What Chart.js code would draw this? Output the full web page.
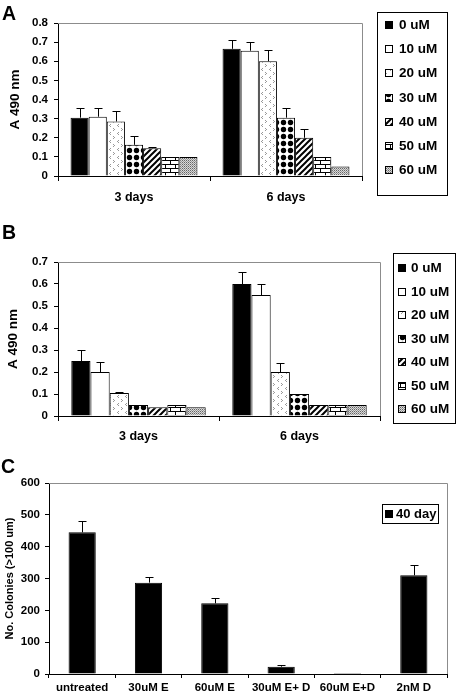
<!DOCTYPE html>
<html>
<head>
    <title>A 490 nm and colony counts</title>
    <script src="https://cdn.jsdelivr.net/npm/chart.js"></script>
    <style>
        body { margin: 0; background: #fff; font-family: "Liberation Sans", Arial, sans-serif; }
        .panel { position: absolute; left: 0; width: 456px; }
        .panel canvas { display: block; }
        .tag { position: absolute; font-weight: bold; font-size: 19.5px; line-height: 1; }
    </style>
</head>
<body>
    <div class="panel" style="top:0; height:215px;"><canvas id="chartA" width="456" height="215"></canvas></div>
    <div class="panel" style="top:215px; height:235px;"><canvas id="chartB" width="456" height="235"></canvas></div>
    <div class="panel" style="top:450px; height:248px;"><canvas id="chartC" width="456" height="248"></canvas></div>
    <div class="tag" style="left:2px; top:4px;">A</div>
    <div class="tag" style="left:2px; top:223px;">B</div>
    <div class="tag" style="left:1px; top:457px;">C</div>

    <script>
        // Panels A and B: one row per concentration, columns = [3 days, 6 days]
        const concLabels = ['0 uM', '10 uM', '20 uM', '30 uM', '40 uM', '50 uM', '60 uM'];
        const dayLabels = ['3 days', '6 days'];

        const meanA = [[0.305, 0.665], [0.31, 0.655], [0.285, 0.60], [0.163, 0.305], [0.145, 0.20], [0.10, 0.10], [0.10, 0.05]];
        const errA  = [[0.05, 0.047], [0.048, 0.048], [0.055, 0.06], [0.047, 0.05], [0.005, 0.045], [0, 0], [0, 0]];

        const meanB = [[0.25, 0.60], [0.20, 0.55], [0.105, 0.20], [0.05, 0.10], [0.04, 0.05], [0.05, 0.05], [0.04, 0.05]];
        const errB  = [[0.05, 0.055], [0.047, 0.05], [0.005, 0.043], [0, 0], [0, 0], [0, 0], [0, 0]];

        // Panel C
        const groupLabels = ['untreated', '30uM E', '60uM E', '30uM E+ D', '60uM E+D', '2nM D'];
        const seriesC = '40 day';
        const colonies = [445, 287, 222, 23, 3, 310];
        const coloniesErr = [36, 19, 17, 4, 0, 32];

        const yMaxA = 0.8, yMaxB = 0.7, yMaxC = 600;
        const yStepA = 0.1, yStepB = 0.1, yStepC = 100;

        Chart.defaults.font.family = '"Liberation Sans", Arial, sans-serif';
        Chart.defaults.font.weight = 'bold';
        Chart.defaults.color = '#000';

        // small repeating fills, like the old excel hatches
        function tile(w, h, draw) {
            const c = document.createElement('canvas');
            c.width = w; c.height = h;
            const g = c.getContext('2d');
            g.fillStyle = '#fff';
            g.fillRect(0, 0, w, h);
            draw(g);
            return g.createPattern(c, 'repeat');
        }

        const chevrons = tile(8, 8, g => {
            g.fillStyle = '#999';
            g.fillRect(1, 0, 1, 1); g.fillRect(2, 1, 1, 1); g.fillRect(1, 2, 1, 1);
            g.fillRect(6, 4, 1, 1); g.fillRect(5, 5, 1, 1); g.fillRect(6, 6, 1, 1);
        });
        const dots = tile(7, 7, g => {
            g.fillStyle = '#000';
            g.beginPath(); g.arc(3.5, 3.5, 2.7, 0, Math.PI * 2); g.fill();
        });
        const stripes = tile(6, 6, g => {
            g.strokeStyle = '#000'; g.lineWidth = 2;
            g.beginPath();
            g.moveTo(-3, 3); g.lineTo(3, -3);
            g.moveTo(0, 6); g.lineTo(6, 0);
            g.moveTo(3, 9); g.lineTo(9, 3);
            g.stroke();
        });
        const bricks = tile(10, 8, g => {
            g.fillStyle = '#000';
            g.fillRect(0, 0, 10, 1); g.fillRect(0, 4, 10, 1);
            g.fillRect(0, 0, 1, 4); g.fillRect(5, 4, 1, 4);
        });
        const stipple = tile(2, 2, g => {
            g.fillStyle = '#d8d8d8'; g.fillRect(0, 0, 2, 2);
            g.fillStyle = '#666'; g.fillRect(0, 0, 1, 1);
            g.fillStyle = '#9a9a9a'; g.fillRect(1, 1, 1, 1);
        });
        const fills = ['#000', '#fff', chevrons, dots, stripes, bricks, stipple];

        // upper error bars, T shaped
        const errorBars = {
            id: 'errorBars',
            afterDatasetsDraw(chart) {
                const ctx = chart.ctx;
                const y = chart.scales.y;
                ctx.save();
                ctx.strokeStyle = '#000';
                ctx.lineWidth = 1;
                chart.data.datasets.forEach((ds, i) => {
                    chart.getDatasetMeta(i).data.forEach((bar, j) => {
                        const e = ds.errors[j];
                        if (!e) return;
                        const x = Math.round(bar.x) + 0.5;
                        const yTop = Math.round(y.getPixelForValue(ds.data[j] + e)) + 0.5;
                        ctx.beginPath();
                        ctx.moveTo(x, bar.y);
                        ctx.lineTo(x, yTop);
                        ctx.moveTo(x - 4, yTop);
                        ctx.lineTo(x + 4, yTop);
                        ctx.stroke();
                    });
                });
                ctx.restore();
            }
        };

        // grey plot-area frame on top and right
        const plotFrame = {
            id: 'plotFrame',
            beforeDatasetsDraw(chart) {
                const {ctx, chartArea: a} = chart;
                ctx.save();
                ctx.strokeStyle = '#8c8c8c';
                ctx.lineWidth = 1;
                ctx.beginPath();
                ctx.moveTo(a.left, Math.round(a.top) + 0.5);
                ctx.lineTo(Math.round(a.right) + 0.5, Math.round(a.top) + 0.5);
                ctx.lineTo(Math.round(a.right) + 0.5, a.bottom);
                ctx.stroke();
                ctx.restore();
            }
        };

        // boxed legend
        const boxLegend = {
            id: 'boxLegend',
            afterDraw(chart, args, o) {
                if (!o || !o.box) return;
                const ctx = chart.ctx;
                ctx.save();
                ctx.strokeStyle = '#000';
                ctx.lineWidth = 1;
                ctx.strokeRect(o.box[0] + 0.5, o.box[1] + 0.5, o.box[2], o.box[3]);
                ctx.font = 'bold ' + o.fontSize + 'px "Liberation Sans", Arial, sans-serif';
                ctx.textBaseline = 'middle';
                chart.data.datasets.forEach((ds, i) => {
                    const cy = Math.round(o.firstRow + i * o.rowGap);
                    ctx.fillStyle = ds.backgroundColor;
                    ctx.fillRect(o.swatchX, cy - 4, 8, 8);
                    ctx.strokeRect(o.swatchX + 0.5, cy - 3.5, 7, 7);
                    ctx.fillStyle = '#000';
                    ctx.fillText(ds.label, o.textX, cy + 0.5);
                });
                ctx.restore();
            }
        };

        function barOptions(c) {
            return {
                responsive: false,
                animation: false,
                events: [],
                layout: { padding: { left: 0, top: c.top, right: c.right, bottom: 0 } },
                plugins: {
                    legend: { display: false },
                    tooltip: { enabled: false },
                    boxLegend: c.legend
                },
                scales: {
                    x: {
                        grid: { drawOnChartArea: false, tickLength: c.xTick, color: '#000', offset: true },
                        border: { color: '#000' },
                        ticks: { font: { size: c.xFont, weight: 'bold' }, padding: c.xPad, maxRotation: 0, autoSkip: false },
                        afterFit: s => { s.height = c.xHeight; }
                    },
                    y: {
                        min: 0,
                        max: c.yMax,
                        ticks: { stepSize: c.yStep, font: { size: 11.5, weight: 'bold' }, padding: c.yPad },
                        grid: { drawOnChartArea: false, tickLength: 4, color: '#000' },
                        border: { color: '#000' },
                        title: {
                            display: true,
                            text: c.yTitle,
                            font: { size: c.titleFont, weight: 'bold' },
                            padding: { top: c.titlePad, bottom: 0 }
                        },
                        afterFit: s => { s.width = c.yWidth; }
                    }
                }
            };
        }

        function concDatasets(mean, err) {
            return concLabels.map((label, i) => ({
                label: label,
                data: mean[i],
                errors: err[i],
                backgroundColor: fills[i],
                borderColor: '#000',
                borderWidth: 1,
                barPercentage: 1,
                categoryPercentage: 0.835
            }));
        }

        new Chart(document.getElementById('chartA'), {
            type: 'bar',
            data: { labels: dayLabels, datasets: concDatasets(meanA, errA) },
            options: barOptions({
                top: 23, right: 94, xHeight: 39, xTick: 5, xPad: 9, xFont: 12.5,
                yWidth: 58, yMax: yMaxA, yStep: yStepA, yPad: 6,
                yTitle: 'A 490 nm', titleFont: 13.5, titlePad: 7,
                legend: { box: [377, 12, 70, 183], swatchX: 385, textX: 399, firstRow: 25, rowGap: 24.2, fontSize: 13.5 }
            }),
            plugins: [plotFrame, errorBars, boxLegend]
        });

        new Chart(document.getElementById('chartB'), {
            type: 'bar',
            data: { labels: dayLabels, datasets: concDatasets(meanB, errB) },
            options: barOptions({
                top: 47, right: 76, xHeight: 34, xTick: 5, xPad: 8.5, xFont: 12.5,
                yWidth: 58, yMax: yMaxB, yStep: yStepB, yPad: 6,
                yTitle: 'A 490 nm', titleFont: 13.5, titlePad: 5,
                legend: { box: [393, 38, 62, 170], swatchX: 398, textX: 411, firstRow: 53.3, rowGap: 23.5, fontSize: 13.5 }
            }),
            plugins: [plotFrame, errorBars, boxLegend]
        });

        new Chart(document.getElementById('chartC'), {
            type: 'bar',
            data: {
                labels: groupLabels,
                datasets: [{
                    label: seriesC,
                    data: colonies,
                    errors: coloniesErr,
                    backgroundColor: '#000',
                    borderColor: '#000',
                    borderWidth: 1,
                    barPercentage: 1,
                    categoryPercentage: 0.41
                }]
            },
            options: barOptions({
                top: 33, right: 9, xHeight: 24, xTick: 4, xPad: 3, xFont: 11.5,
                yWidth: 49, yMax: yMaxC, yStep: yStepC, yPad: 5,
                yTitle: 'No. Colonies (>100 um)', titleFont: 11, titlePad: 3.4,
                legend: { box: [382, 54, 56, 19], swatchX: 385, textX: 396, firstRow: 64, rowGap: 0, fontSize: 13 }
            }),
            plugins: [plotFrame, errorBars, boxLegend]
        });
    </script>
</body>
</html>
